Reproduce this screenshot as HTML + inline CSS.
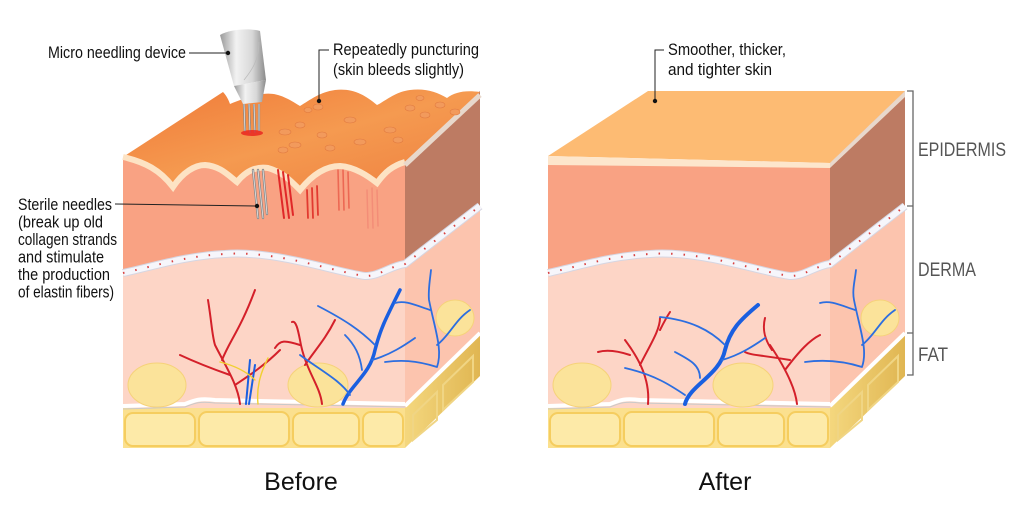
<!DOCTYPE html>
<html><head><meta charset="utf-8"><style>
html,body{margin:0;padding:0;background:#fff;}
svg{display:block;}
text{font-family:"Liberation Sans",Arial,sans-serif;}
</style></head><body>
<svg width="1024" height="509" viewBox="0 0 1024 509" xmlns="http://www.w3.org/2000/svg">
<defs>
<linearGradient id="topB" x1="0" y1="0" x2="1" y2="1">
<stop offset="0" stop-color="#f07a38"/><stop offset="0.5" stop-color="#f59a50"/><stop offset="1" stop-color="#ee8040"/>
</linearGradient>
<linearGradient id="dev" x1="0" y1="0" x2="1" y2="0">
<stop offset="0" stop-color="#9a9a9a"/><stop offset="0.35" stop-color="#f2f2f2"/><stop offset="0.7" stop-color="#d8d8d8"/><stop offset="1" stop-color="#8a8a8a"/>
</linearGradient>
<linearGradient id="fatS" x1="0" y1="0" x2="1" y2="0">
<stop offset="0" stop-color="#f4d77e"/><stop offset="1" stop-color="#e0b652"/>
</linearGradient>
<g id="body">
  <path d="M548,160 L830,163 L830,264 C815,266 805,276 790,276 C760,272 700,250 650,254 C610,256 580,266 548,273 Z" fill="#f9a283"/>
  <path d="M548,273 C580,266 610,256 650,254 C700,250 760,272 790,276 C805,276 815,266 830,264 L830,408 L548,408 Z" fill="#fdd5c6"/>
  <rect x="548" y="408" width="282" height="40" fill="#fbe08e"/>
  <g fill="#fdeaa8" stroke="#f5cd5f" stroke-width="2">
    <rect x="550" y="413" width="70" height="33" rx="8"/>
    <rect x="624" y="412" width="90" height="34" rx="8"/>
    <rect x="718" y="413" width="66" height="33" rx="8"/>
    <rect x="788" y="412" width="40" height="34" rx="8"/>
  </g>
  <path d="M548,406 L610,404 C620,400 625,398 640,400 L830,404" fill="none" stroke="#fff" stroke-width="4"/>
  <path d="M548,409 L610,407 C620,403 625,401 640,403 L830,407" fill="none" stroke="#c9c9c9" stroke-width="1"/>
  <polygon points="830,163 905,91 905,206 830,264" fill="#bd7b63"/>
  <polygon points="830,264 905,206 905,333 830,408" fill="#fcc4ae"/>
  <polygon points="830,408 905,335 905,376 830,448" fill="url(#fatS)"/>
  <path d="M830,406 L905,333" stroke="#fff" stroke-width="4"/>
  <g fill="none" stroke="#f0d584" stroke-width="2">
    <path d="M838,415 L862,392 L862,420 L838,440 Z"/>
    <path d="M868,385 L898,356 L898,382 L868,410 Z"/>
  </g>
  <path d="M548,273 C580,266 610,256 650,254 C700,250 760,272 790,276 C805,276 815,266 830,264 L905,206" fill="none" stroke="#d6d6e2" stroke-width="8"/>
  <path d="M548,273 C580,266 610,256 650,254 C700,250 760,272 790,276 C805,276 815,266 830,264 L905,206" fill="none" stroke="#f6f6fb" stroke-width="6"/>
  <path d="M548,273 C580,266 610,256 650,254 C700,250 760,272 790,276 C805,276 815,266 830,264 L905,206" fill="none" stroke="#d84040" stroke-width="2" stroke-dasharray="1.5 11"/>
  <g fill="#fbe39a" stroke="#f6d27a" stroke-width="1">
    <ellipse cx="582" cy="385" rx="29" ry="22"/>
    <ellipse cx="743" cy="385" rx="30" ry="22"/>
    <ellipse cx="880" cy="318" rx="19" ry="18"/>
  </g>
</g>
</defs>

<!-- AFTER -->
<use href="#body"/>
<polygon points="548,156 648,91 905,91 830,163" fill="#fdbb73"/>
<polygon points="548,156 830,163 830,168 548,165" fill="#fde6cc"/>
<polygon points="830,163 905,91 905,97 830,168" fill="#e8d8cc"/>
<g fill="none" stroke-linecap="round">
  <path d="M648,404 C650,380 640,360 625,340 M640,365 C650,345 660,330 660,318 M630,355 C615,350 605,350 598,352 M660,330 C665,320 668,315 670,312" stroke="#d4202a" stroke-width="2"/>
  <path d="M797,404 C795,385 780,360 770,345 M785,370 C800,350 810,340 820,335 M772,350 C765,340 762,330 765,318 M790,360 C760,355 750,355 745,352" stroke="#d4202a" stroke-width="2"/>
  <path d="M685,404 C690,385 720,375 725,350 C730,330 740,320 758,305" stroke="#1a5fe0" stroke-width="4"/>
  <path d="M725,345 C710,330 690,320 660,317 M722,360 C740,355 755,345 765,338 M685,395 C670,385 655,375 625,368 M700,378 C700,365 690,360 675,352" stroke="#2c6ee0" stroke-width="1.8"/>
  <path d="M862,367 C868,350 860,330 854,300 C852,290 855,280 856,270 M862,345 C875,335 880,320 895,310 M855,310 C840,305 830,300 820,303 M862,367 C840,360 820,360 805,362" stroke="#2c6ee0" stroke-width="1.8"/>
</g>

<!-- BEFORE -->
<use href="#body" transform="translate(-425,0)"/>
<path d="M123,157 C145,162 160,170 173,187 C183,172 195,165 205,165 C220,166 228,175 237,182 C245,172 255,166 268,168 C283,172 292,182 300,190 C312,175 325,166 340,166 C355,167 368,176 377,183 C385,172 392,166 405,162 L480,92 C465,90 455,92 447,98 C437,92 425,88 410,90 C395,92 387,100 377,105 C365,95 353,88 335,90 C320,92 310,100 300,106 C287,98 277,92 263,94 C250,96 240,100 230,104 C228,98 225,94 223,92 Z" fill="url(#topB)"/>
<path d="M123,157 C145,162 160,170 173,187 C183,172 195,165 205,165 C220,166 228,175 237,182 C245,172 255,166 268,168 C283,172 292,182 300,190 C312,175 325,166 340,166 C355,167 368,176 377,183 C385,172 392,166 405,162" fill="none" stroke="#fde3c4" stroke-width="6"/>
<path d="M405,165 L480,95" stroke="#e8d8cc" stroke-width="5"/>
<g fill="#f29a5c" stroke="#e07a40" stroke-width="0.6">
  <ellipse cx="285" cy="132" rx="6" ry="3"/><ellipse cx="295" cy="145" rx="6" ry="3"/><ellipse cx="283" cy="150" rx="5" ry="3"/>
  <ellipse cx="300" cy="125" rx="5" ry="3"/><ellipse cx="322" cy="135" rx="5" ry="3"/><ellipse cx="318" cy="107" rx="5" ry="3"/>
  <ellipse cx="308" cy="110" rx="4" ry="2.5"/><ellipse cx="350" cy="120" rx="6" ry="3"/><ellipse cx="360" cy="142" rx="6" ry="3"/>
  <ellipse cx="390" cy="130" rx="6" ry="3"/><ellipse cx="410" cy="108" rx="5" ry="3"/><ellipse cx="425" cy="115" rx="5" ry="3"/>
  <ellipse cx="420" cy="98" rx="4" ry="2.5"/><ellipse cx="398" cy="140" rx="5" ry="3"/><ellipse cx="330" cy="148" rx="5" ry="3"/>
  <ellipse cx="440" cy="105" rx="5" ry="3"/><ellipse cx="455" cy="112" rx="5" ry="3"/>
</g>
<g stroke-linecap="round">
  <path d="M253,170 L258,218 M258,170 L263,218 M263,170 L267,214" stroke="#8a8a8a" stroke-width="2.4"/>
  <path d="M253,170 L258,218 M258,170 L263,218 M263,170 L267,214" stroke="#e6e6e6" stroke-width="0.8"/>
  <path d="M278,170 L284,218 M283,172 L289,218 M288,175 L293,215" stroke="#e02828" stroke-width="2"/>
  <path d="M307,190 L308,218 M312,188 L313,218 M317,186 L318,215" stroke="#e23a30" stroke-width="1.8"/>
  <path d="M338,170 L339,210 M343,170 L344,210 M348,172 L349,208" stroke="#ea5a48" stroke-width="1.6" opacity="0.8"/>
  <path d="M367,190 L368,228 M372,188 L373,228 M377,190 L378,226" stroke="#f08070" stroke-width="1.5" opacity="0.6"/>
</g>
<!-- device -->
<path d="M220,35 C230,29 250,28 260,31 L266,80 L234,86 Z" fill="url(#dev)"/>
<path d="M234,86 L266,80 L262,102 L243,104 Z" fill="url(#dev)"/>
<path d="M244,80 C252,70 259,60 259,42" fill="none" stroke="#bbb" stroke-width="0.8"/>
<g stroke="#888" stroke-width="2.2"><path d="M244,104 L245,132 M249,104 L250,133 M254,104 L255,133 M259,104 L259,131"/></g>
<g stroke="#eee" stroke-width="0.7"><path d="M244,104 L245,132 M249,104 L250,133 M254,104 L255,133 M259,104 L259,131"/></g>
<ellipse cx="252" cy="133" rx="11" ry="3" fill="#e8201e" opacity="0.8"/>
<g fill="none" stroke-linecap="round">
  <path d="M240,404 C238,385 225,365 215,345 C212,335 212,325 208,300 M222,360 C230,340 240,330 255,290 M230,375 C210,368 195,362 180,355 M235,385 C250,375 265,365 280,350" stroke="#d4202a" stroke-width="2"/>
  <path d="M322,404 C320,385 305,370 300,340 C298,330 296,320 292,322 M305,365 C315,350 325,340 335,320 M300,345 C285,340 280,340 275,348" stroke="#d4202a" stroke-width="2"/>
  <path d="M343,404 C350,385 370,375 375,350 C380,330 385,320 400,290" stroke="#1a5fe0" stroke-width="3.5"/>
  <path d="M375,345 C360,330 345,320 318,306 M372,360 C390,355 405,345 415,338 M350,395 C340,380 320,370 300,355 M362,370 C360,355 355,345 345,335" stroke="#2c6ee0" stroke-width="1.8"/>
  <path d="M437,367 C443,350 435,330 429,300 C428,290 430,280 431,270 M437,345 C450,335 455,320 470,310 M430,310 C415,305 405,300 395,303 M437,367 C415,360 400,360 385,362" stroke="#2c6ee0" stroke-width="1.8"/>
  <path d="M246,404 L250,360 M249,404 L255,365" stroke="#1a5fe0" stroke-width="2"/>
  <path d="M258,404 C256,385 262,370 268,358 M255,380 C245,370 232,365 220,362" stroke="#f0d030" stroke-width="1.4"/>
</g>

<g fill="#111">
  <text x="48" y="58" font-size="16.5" textLength="138" lengthAdjust="spacingAndGlyphs">Micro needling device</text>
  <text x="333" y="55" font-size="16.5" textLength="146" lengthAdjust="spacingAndGlyphs">Repeatedly puncturing</text>
  <text x="333" y="75" font-size="16.5" textLength="131" lengthAdjust="spacingAndGlyphs">(skin bleeds slightly)</text>
  <text x="668" y="55" font-size="16.5" textLength="118" lengthAdjust="spacingAndGlyphs">Smoother, thicker,</text>
  <text x="668" y="75" font-size="16.5" textLength="104" lengthAdjust="spacingAndGlyphs">and tighter skin</text>
  <g font-size="16.5">
    <text x="18" y="210" textLength="94" lengthAdjust="spacingAndGlyphs">Sterile needles</text>
    <text x="18" y="227.5" textLength="85" lengthAdjust="spacingAndGlyphs">(break up old</text>
    <text x="18" y="245" textLength="99" lengthAdjust="spacingAndGlyphs">collagen strands</text>
    <text x="18" y="262.5" textLength="86" lengthAdjust="spacingAndGlyphs">and stimulate</text>
    <text x="18" y="280" textLength="92" lengthAdjust="spacingAndGlyphs">the production</text>
    <text x="18" y="297.5" textLength="96" lengthAdjust="spacingAndGlyphs">of elastin fibers)</text>
  </g>
  <text x="301" y="490" font-size="25" text-anchor="middle">Before</text>
  <text x="725" y="490" font-size="25" text-anchor="middle">After</text>
</g>
<g fill="#555" font-size="19">
  <text x="918" y="156" textLength="88" lengthAdjust="spacingAndGlyphs">EPIDERMIS</text>
  <text x="918" y="276" textLength="58" lengthAdjust="spacingAndGlyphs">DERMA</text>
  <text x="918" y="361" textLength="30" lengthAdjust="spacingAndGlyphs">FAT</text>
</g>
<g stroke="#222" stroke-width="1" fill="none">
  <path d="M189,53 L228,53"/>
  <path d="M329,50 L319,50 L319,101"/>
  <path d="M115,204 L257,206"/>
  <path d="M664,50 L655,50 L655,101"/>
</g>
<g fill="#111">
  <circle cx="228" cy="53" r="2.2"/><circle cx="319" cy="101" r="2.2"/><circle cx="257" cy="206" r="2.2"/><circle cx="655" cy="101" r="2.2"/>
</g>
<path d="M907,91 L913,91 L913,375 L907,375 M913,206 L907,206 M913,333 L907,333" fill="none" stroke="#666" stroke-width="1.3"/>
</svg>
</body></html>
